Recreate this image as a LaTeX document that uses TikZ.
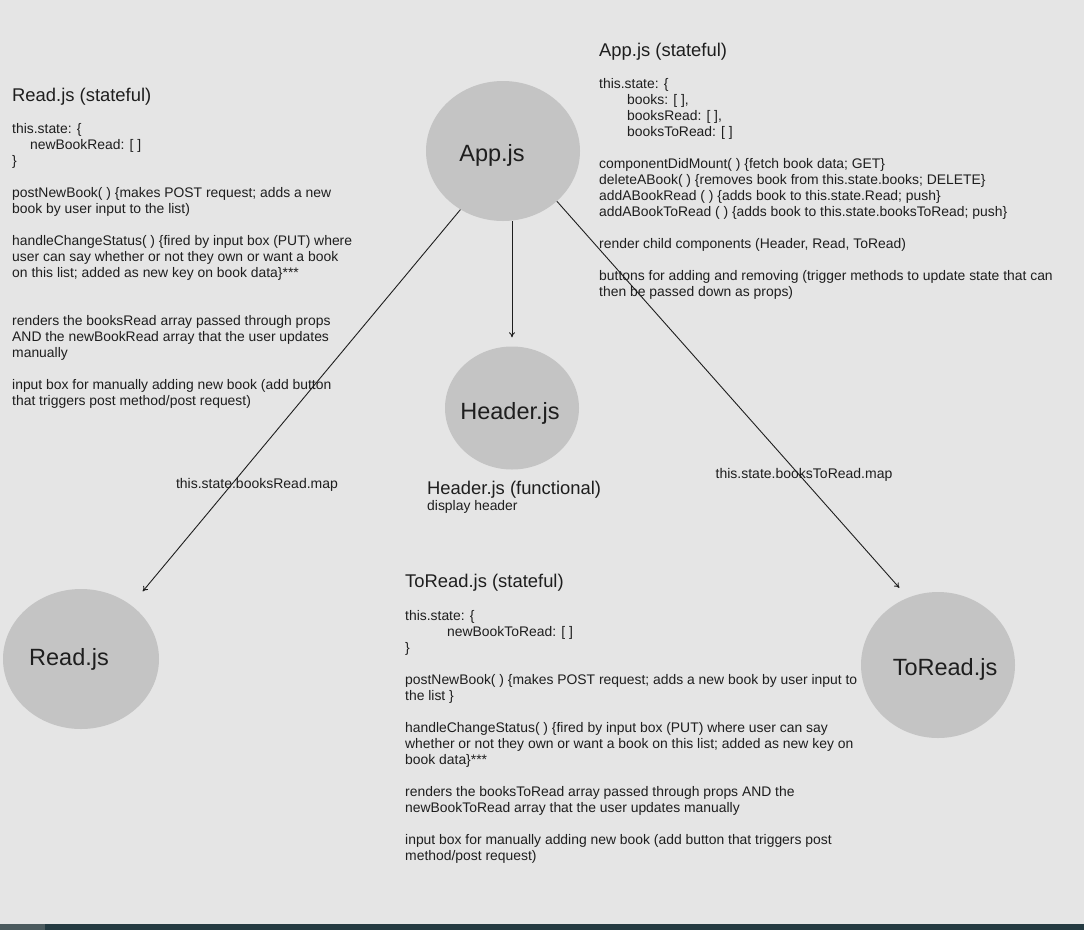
\documentclass[tikz,border=0pt]{standalone}
\usepackage{fontspec}
\setmainfont{Liberation Sans}
\usepackage{xcolor}
\usetikzlibrary{shapes.geometric,arrows.meta,positioning,calc}
\definecolor{pagebg}{HTML}{E5E5E5}
\definecolor{compfill}{HTML}{C4C4C4}
\definecolor{inkc}{HTML}{1E1E1E}
\definecolor{barc}{HTML}{243A41}
\definecolor{barl}{HTML}{4B5A5E}
\begin{document}
\begin{tikzpicture}[x=1pt,y=-1pt,inkc,
    comp/.style={ellipse,fill=compfill,inner sep=0},
    complbl/.style={inner sep=0,font=\fontsize{23.5}{26}\selectfont},
    title/.style={anchor=base west,inner sep=0,font=\fontsize{18.4}{20}\selectfont},
    body/.style={anchor=north west,inner sep=0,align=left,font=\fontsize{13.9}{16}\selectfont},
    maplbl/.style={inner sep=0,font=\fontsize{14}{16}\selectfont},
    link/.style={-{To[length=5pt,width=6pt]},line width=0.9pt,draw=inkc}]

 % page and bottom bar
 \useasboundingbox (0,0) rectangle (1084,930);
 \fill[pagebg] (0,0) rectangle (1084,930);
 \fill[barc] (0,924) rectangle (1084,930);
 \fill[barl] (0,924) rectangle (45,930);

 % components
 \node[comp,minimum width=154pt,minimum height=140pt,
       label={[complbl,xshift=-11pt,yshift=-4pt]center:App.js}] (app) at (503,151) {};
 \node[comp,minimum width=134pt,minimum height=123pt,
       label={[complbl,xshift=-2pt,yshift=-5pt]center:Header.js}] (header) at (512,408) {};
 \node[comp,minimum width=156pt,minimum height=140pt,
       label={[complbl,xshift=-12pt]center:Read.js}] (read) at (81,659) {};
 \node[comp,minimum width=154pt,minimum height=146pt,
       label={[complbl,xshift=7pt,yshift=-4pt]center:ToRead.js}] (toread) at (938,665) {};

 % App.js notes
 \node[title] (apptitle) at (599,56) {App.js (stateful)};
 \node[body] (appbody) at (599,78) {this.state: \{\\
   \hspace*{28pt}books: [ ],\\
   \hspace*{28pt}booksRead: [ ],\\
   \hspace*{28pt}booksToRead: [ ]\\[16pt]
   componentDidMount( ) \{fetch book data; GET\}\\
   deleteABook( ) \{removes book from this.state.books; DELETE\}\\
   addABookRead ( ) \{adds book to this.state.Read; push\}\\
   addABookToRead ( ) \{adds book to this.state.booksToRead; push\}\\[16pt]
   render child components (Header, Read, ToRead)\\[16pt]
   buttons for adding and removing (trigger methods to update state that can\\
   then be passed down as props)};

 % Read.js notes
 \node[title] (readtitle) at (12,101) {Read.js (stateful)};
 \node[body] (readbody) at (12,123) {this.state: \{\\
   \hspace*{18pt}newBookRead: [ ]\\
   \}\\[16pt]
   postNewBook( ) \{makes POST request; adds a new\\
   book by user input to the list)\\[16pt]
   handleChangeStatus( ) \{fired by input box (PUT) where\\
   user can say whether or not they own or want a book\\
   on this list; added as new key on book data\}***\\[32pt]
   renders the booksRead array passed through props\\
   AND the newBookRead array that the user updates\\
   manually\\[16pt]
   input box for manually adding new book (add button\\
   that triggers post method/post request)};

 % Header.js notes
 \node[title] (headertitle) at (427,494) {Header.js (functional)};
 \node[body] (headerbody) at (427,500) {display header};

 % ToRead.js notes
 \node[title] (toreadtitle) at (405,587) {ToRead.js (stateful)};
 \node[body] (toreadbody) at (405,610) {this.state: \{\\
   \hspace*{42pt}newBookToRead: [ ]\\
   \}\\[16pt]
   postNewBook( ) \{makes POST request; adds a new book by user input to\\
   the list \}\\[16pt]
   handleChangeStatus( ) \{fired by input box (PUT) where user can say\\
   whether or not they own or want a book on this list; added as new key on\\
   book data\}***\\[16pt]
   renders the booksToRead array passed through props AND the\\
   newBookToRead array that the user updates manually\\[16pt]
   input box for manually adding new book (add button that triggers post\\
   method/post request)};

 % props passed down
 \draw[link,shorten >=18pt] (app.234) -- (read.47);
 \draw[link,shorten >=9pt] (app.south -| header.north) -- (header.north);
 \draw[link,shorten >=13pt] (app.-43) -- (toread.114);
 \node[maplbl] (readmap) at (257,485) {this.state.booksRead.map};
 \node[maplbl] (toreadmap) at (804,475) {this.state.booksToRead.map};

\end{tikzpicture}
\end{document}
